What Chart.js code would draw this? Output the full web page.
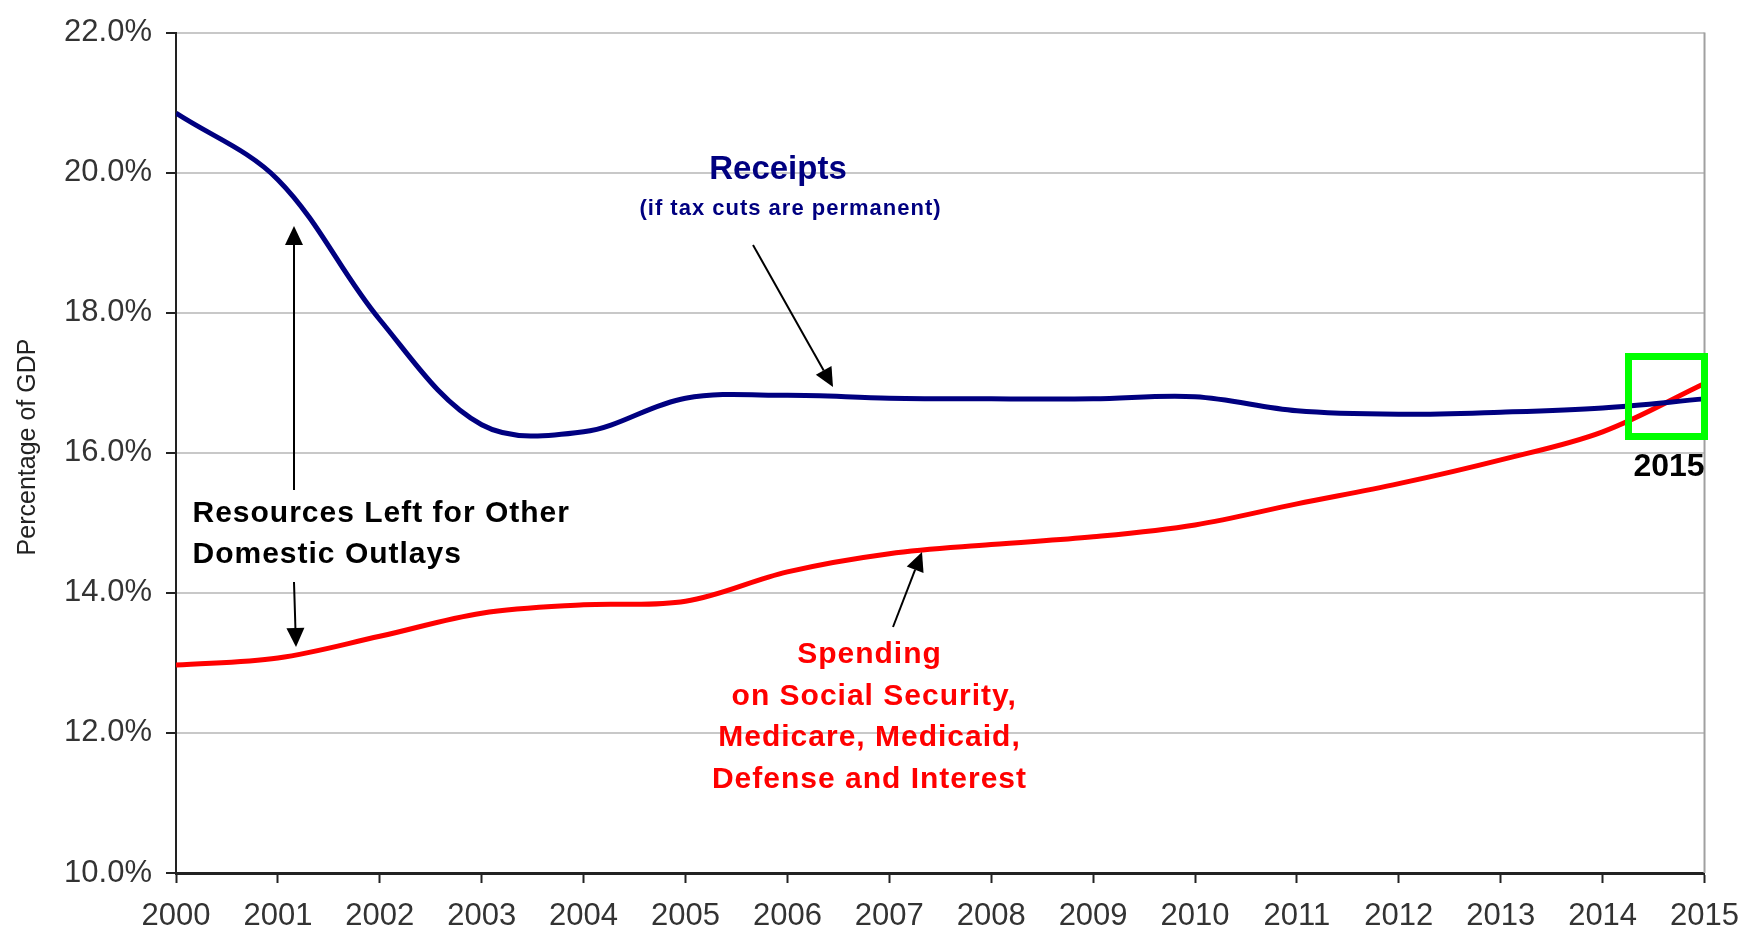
<!DOCTYPE html>
<html>
<head>
<meta charset="utf-8">
<title>Receipts vs Spending, % of GDP</title>
<script src="https://cdn.jsdelivr.net/npm/chart.js@4.4.1/dist/chart.umd.min.js"></script>
<style>
  html, body { margin: 0; padding: 0; background: #fff; }
  #wrap { width: 1754px; height: 933px; }
</style>
</head>
<body>
<div id="wrap"><canvas id="chart" width="1754" height="933"></canvas></div>
<script>
// values (percent of GDP)
var years = [2000, 2001, 2002, 2003, 2004, 2005, 2006, 2007, 2008, 2009, 2010, 2011, 2012, 2013, 2014, 2015];
var receipts = [20.85, 19.9, 17.9, 16.4, 16.3, 16.78, 16.82, 16.78, 16.77, 16.77, 16.8, 16.6, 16.55, 16.58, 16.64, 16.77];
var spending = [12.97, 13.07, 13.38, 13.71, 13.83, 13.88, 14.3, 14.56, 14.69, 14.8, 14.97, 15.27, 15.56, 15.9, 16.3, 16.99];
var yMin = 10, yMax = 22, yStep = 2;

var FONT = "'Liberation Sans', Arial, sans-serif";

function toPoints(vals) {
  return years.map(function (yr, i) { return { x: yr, y: vals[i] }; });
}

function arrow(ctx, x1, y1, x2, y2) {
  var ang = Math.atan2(y2 - y1, x2 - x1);
  var len = 19, hw = 9;
  var bx = x2 - len * Math.cos(ang), by = y2 - len * Math.sin(ang);
  ctx.beginPath();
  ctx.moveTo(x1, y1);
  ctx.lineTo(bx, by);
  ctx.stroke();
  ctx.beginPath();
  ctx.moveTo(x2, y2);
  ctx.lineTo(bx + hw * Math.sin(ang), by - hw * Math.cos(ang));
  ctx.lineTo(bx - hw * Math.sin(ang), by + hw * Math.cos(ang));
  ctx.closePath();
  ctx.fill();
}

function lines(ctx, list, x, y0, lh, spacing) {
  ctx.letterSpacing = spacing + 'px';
  list.forEach(function (t, i) {
    ctx.fillText(t, x + spacing / 2, y0 + i * lh);
  });
  ctx.letterSpacing = '0px';
}

var notes = {
  id: 'notes',
  afterDatasetsDraw: function (chart) {
    var ctx = chart.ctx, a = chart.chartArea;
    ctx.save();

    // right edge of the plot
    ctx.strokeStyle = '#a0a0a0';
    ctx.lineWidth = 2;
    ctx.beginPath();
    ctx.moveTo(a.right, a.top);
    ctx.lineTo(a.right, a.bottom);
    ctx.stroke();

    // arrows
    ctx.strokeStyle = '#000';
    ctx.fillStyle = '#000';
    ctx.lineWidth = 2;
    arrow(ctx, 753, 245, 833, 387);
    arrow(ctx, 294, 490, 294, 226);
    arrow(ctx, 294, 582, 296, 647);
    arrow(ctx, 893, 627, 922, 552);

    // receipts label
    ctx.textAlign = 'center';
    ctx.textBaseline = 'alphabetic';
    ctx.fillStyle = '#000080';
    ctx.font = 'bold 33px ' + FONT;
    ctx.fillText('Receipts', 778, 179);
    ctx.font = 'bold 22px ' + FONT;
    lines(ctx, ['(if tax cuts are permanent)'], 790, 215, 0, 1);

    // spending label
    ctx.fillStyle = '#ff0000';
    ctx.font = 'bold 30px ' + FONT;
    lines(ctx, ['Spending', ' on Social Security,', 'Medicare, Medicaid,', 'Defense and Interest'], 869, 663, 41.7, 1);

    // resources label
    ctx.textAlign = 'left';
    ctx.fillStyle = '#000';
    lines(ctx, ['Resources Left for Other', 'Domestic Outlays'], 192, 522, 41, 1);

    // 2015 box
    ctx.strokeStyle = '#00ff00';
    ctx.lineWidth = 7;
    ctx.strokeRect(1628.5, 356.5, 76, 80);
    ctx.textAlign = 'center';
    ctx.fillStyle = '#000';
    ctx.font = 'bold 32px ' + FONT;
    ctx.fillText('2015', 1669, 476);

    // y axis title
    ctx.translate(35, 447);
    ctx.rotate(-Math.PI / 2);
    ctx.fillStyle = '#222';
    ctx.font = '25px ' + FONT;
    ctx.fillText('Percentage of GDP', 0, 0);
    ctx.restore();
  }
};

var ctx = document.getElementById('chart').getContext('2d');
var myChart = new Chart(ctx, {
  type: 'line',
  data: {
    datasets: [{
      label: 'Receipts',
      data: toPoints(receipts),
      borderColor: '#000080',
      borderWidth: 5,
      pointRadius: 0,
      tension: 0.35,
      fill: false
    }, {
      label: 'Spending',
      data: toPoints(spending),
      borderColor: '#ff0000',
      borderWidth: 5,
      pointRadius: 0,
      tension: 0.35,
      fill: false
    }]
  },
  options: {
    responsive: false,
    animation: false,
    devicePixelRatio: 1,
    layout: { padding: { top: 27, right: 44, left: 0, bottom: 0 } },
    plugins: { legend: { display: false }, tooltip: { enabled: false } },
    scales: {
      x: {
        type: 'linear',
        min: years[0],
        max: years[years.length - 1],
        afterFit: function (s) { s.height = 60; },
        grid: { drawOnChartArea: false, tickLength: 10, tickColor: '#222', tickWidth: 2 },
        border: { color: '#222', width: 3 },
        ticks: {
          stepSize: 1,
          autoSkip: false,
          maxRotation: 0,
          padding: 15,
          color: '#333',
          font: { family: FONT, size: 31 },
          callback: function (v) { return String(v); }
        }
      },
      y: {
        min: yMin,
        max: yMax,
        afterFit: function (s) { s.width = 176; },
        grid: {
          color: function (c) { return c.tick && c.tick.value === yMin ? 'rgba(0,0,0,0)' : '#c8c8c8'; },
          lineWidth: 2,
          tickLength: 10,
          tickColor: '#222',
          tickWidth: 2
        },
        border: { color: '#222', width: 2 },
        ticks: {
          stepSize: yStep,
          padding: 14,
          color: '#333',
          font: { family: FONT, size: 31 },
          callback: function (v) { return v.toFixed(1) + '%'; }
        }
      }
    }
  },
  plugins: [notes]
});
</script>
</body>
</html>
